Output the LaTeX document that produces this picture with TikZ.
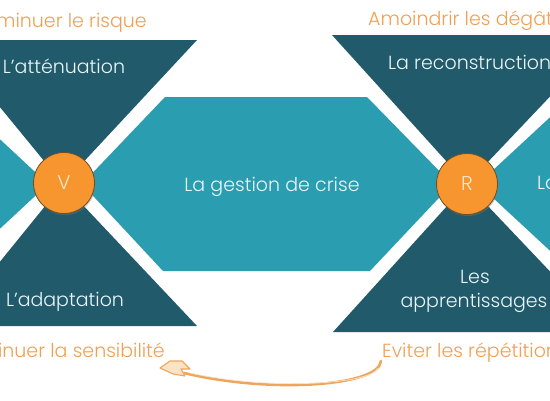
\documentclass[tikz,border=0pt]{standalone}
\usepackage{fontspec}
\setmainfont{Poppins Light}
\usetikzlibrary{shadows}
\definecolor{darkteal}{HTML}{215A6B}
\definecolor{midteal}{HTML}{2A9DB1}
\definecolor{txtorange}{HTML}{F0A055}
\definecolor{circorange}{HTML}{F7952F}
\definecolor{circedge}{HTML}{6E4E24}
\definecolor{cream}{HTML}{FDE6C8}
\definecolor{txtwhite}{HTML}{EAF6F8}
\definecolor{arrowc}{HTML}{EFA55C}
\definecolor{arrowlight}{HTML}{FBE3C6}
\tikzset{
  darkshape/.style={fill=darkteal},
  tealshape/.style={fill=midteal},
  wlbl/.style={text=txtwhite, inner sep=0pt, font=\fontsize{19}{22}\selectfont},
  olbl/.style={text=txtorange, inner sep=0pt, font=\fontsize{19}{22}\selectfont},
  circ/.style={circle, minimum size=61pt, inner sep=0pt, fill=circorange, draw=circedge, line width=0.8pt,
    text=cream, font=\fontsize{20}{22}\selectfont,
    drop shadow={opacity=0.35, shadow xshift=1pt, shadow yshift=-1.5pt}},
}
\begin{document}
\begin{tikzpicture}[x=1pt,y=-1pt]
\useasboundingbox (0,0) rectangle (550,400);
\clip (0,0) rectangle (550,400);
% dark triangles
\fill[darkteal] (63,184) -- (197,40) -- (-10,40) -- (-10,95) -- cycle;
\fill[darkteal] (63,184) -- (197,326) -- (-10,326) -- (-10,274) -- cycle;
\fill[darkteal] (467,184) -- (332,35) -- (560,35) -- (560,86) -- cycle;
\fill[darkteal] (467,184) -- (333,332) -- (560,332) -- (560,282) -- cycle;
% teal shapes
\fill[midteal] (48,184) -- (-10,130) -- (-10,238) -- cycle;
\fill[midteal] (82,184) -- (165,97) -- (367,97) -- (452,184) -- (370,271) -- (163,271) -- cycle;
\fill[midteal] (478,184) -- (560,108) -- (560,260) -- cycle;
% circles
\node[circ] (V) at (64,183) {V};
\node[circ] (R) at (467,184) {R};
% white labels
\node[wlbl, anchor=base] (att) at (64,73) {L’atténuation};
\node[wlbl, anchor=base] (adap) at (65,306) {L’adaptation};
\node[wlbl, anchor=base] (gest) at (272,191) {La gestion de crise};
\node[wlbl, anchor=base west] (recon) at (388,69) {La reconstruction};
\node[wlbl, anchor=base] (les) at (475,283) {Les};
\node[wlbl, anchor=base] (appr) at (474,307) {apprentissages};
\node[wlbl, anchor=base west] (prev) at (537,189) {La prévention};
% orange labels
\node[olbl, anchor=base east] (risque) at (147,27) {Diminuer le risque};
\node[olbl, anchor=base east] (sensib) at (165,357) {Diminuer la sensibilité};
\node[olbl, anchor=base west] (degats) at (368,25) {Amoindrir les dégâts};
\node[olbl, anchor=base west] (repet) at (382,357) {Eviter les répétitions};
% curved arrow
\coordinate (arrS) at (381,361);
\coordinate (arrE) at (184,373);
\draw[arrowc, line width=2.6pt, line cap=round] (arrS) .. controls (379,386) and (272,394) .. (arrE);
\draw[arrowlight, line width=0.7pt] (378,368) .. controls (372,384) and (272,391) .. (190,373);
\filldraw[fill=arrowlight, draw=arrowc, line width=1.1pt, line join=round]
  (160,368) -- (170,361) -- (182,361) -- (190,369) -- (181,369) -- (185,376) -- (173,374) -- cycle;
\end{tikzpicture}
\end{document}
